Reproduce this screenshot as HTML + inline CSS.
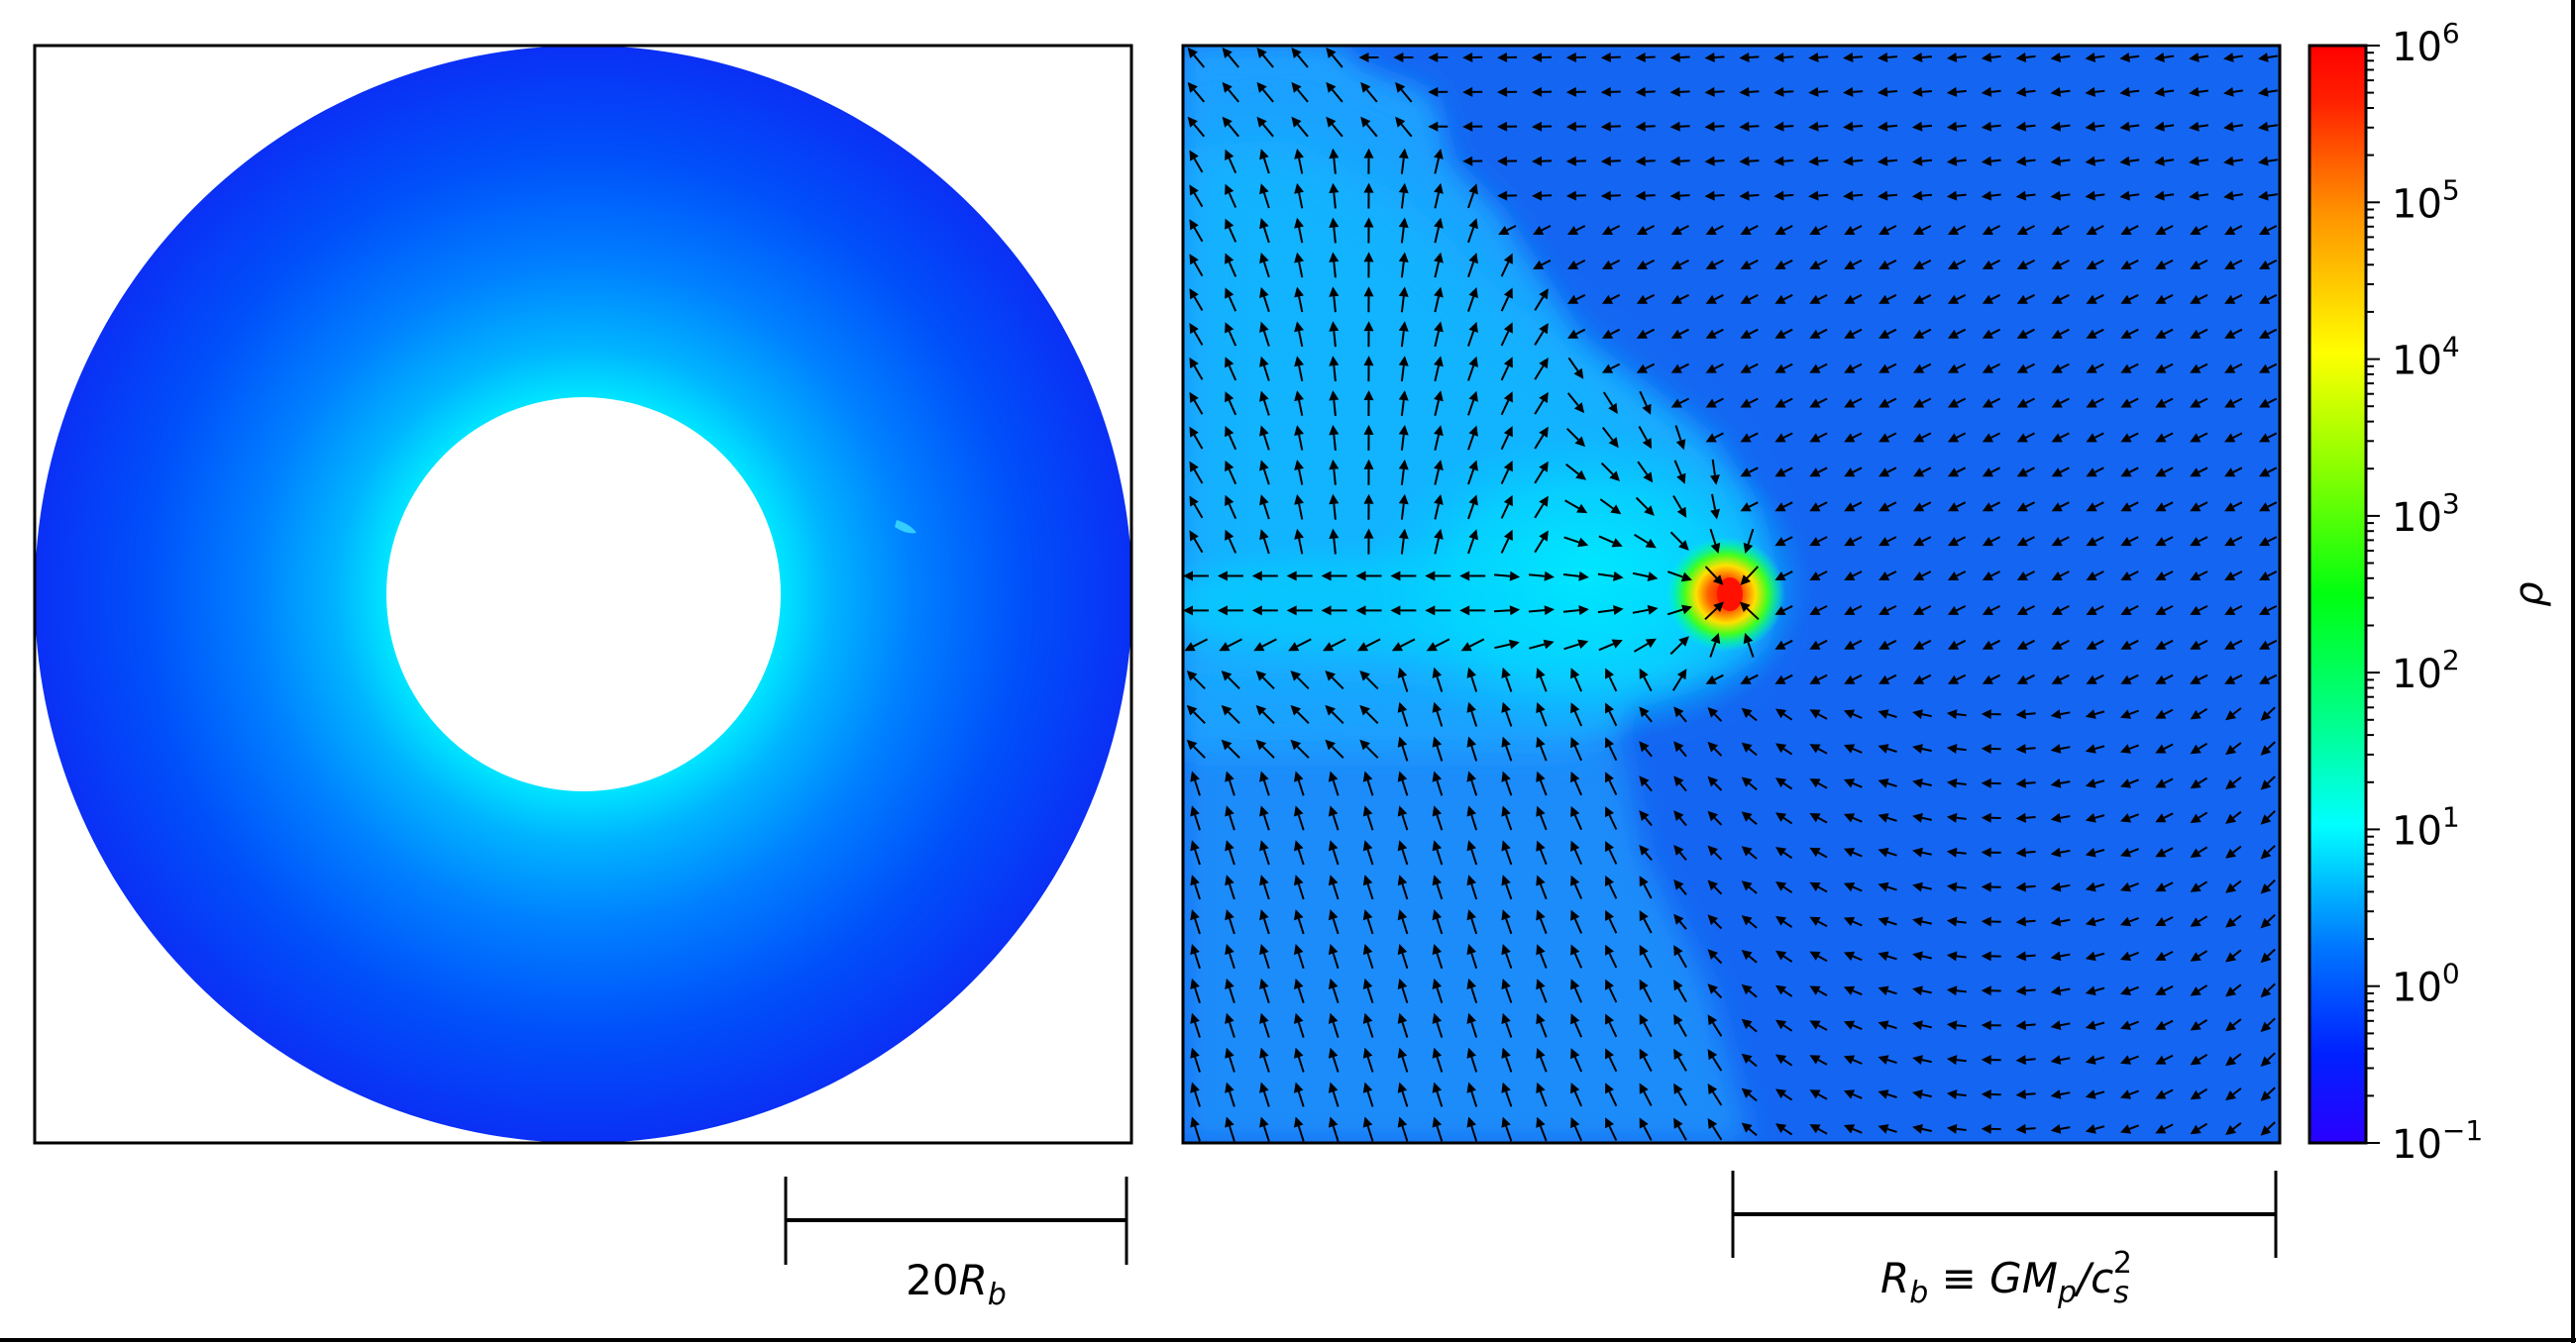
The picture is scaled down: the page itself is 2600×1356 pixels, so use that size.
<!DOCTYPE html>
<html><head><meta charset="utf-8"><style>
html,body{margin:0;padding:0;background:#fff;}
svg{display:block;}
text{font-family:"DejaVu Sans","Liberation Sans",sans-serif;}
</style></head><body>
<svg id="s" width="2600" height="1356" viewBox="0 0 2600 1356" xmlns="http://www.w3.org/2000/svg">
<defs>
<radialGradient id="ann" cx="589" cy="600" r="554" gradientUnits="userSpaceOnUse">
<stop offset="0.36" stop-color="#00e4ff"/>
<stop offset="0.45" stop-color="#00b4ff"/>
<stop offset="0.6" stop-color="#0080ff"/>
<stop offset="0.8" stop-color="#0050fa"/>
<stop offset="1" stop-color="#0a30f5"/>
</radialGradient>
<linearGradient id="jet" x1="0" y1="1" x2="0" y2="0">
<stop offset="0" stop-color="#2a00ff"/>
<stop offset="0.08" stop-color="#0020ff"/>
<stop offset="0.18" stop-color="#0078ff"/>
<stop offset="0.29" stop-color="#00ffff"/>
<stop offset="0.38" stop-color="#00ff90"/>
<stop offset="0.5" stop-color="#00ff10"/>
<stop offset="0.62" stop-color="#90ff00"/>
<stop offset="0.72" stop-color="#ffff00"/>
<stop offset="0.85" stop-color="#ff9000"/>
<stop offset="0.95" stop-color="#ff2000"/>
<stop offset="1" stop-color="#ff0000"/>
</linearGradient>
<radialGradient id="cy" cx="0.5" cy="0.5" r="0.5">
<stop offset="0" stop-color="#00f0ff" stop-opacity="1"/>
<stop offset="0.6" stop-color="#00e0ff" stop-opacity="0.6"/>
<stop offset="1" stop-color="#00c8ff" stop-opacity="0"/>
</radialGradient>
<radialGradient id="hot" cx="0.5" cy="0.5" r="0.5">
<stop offset="0" stop-color="#ff1000"/>
<stop offset="0.3" stop-color="#ff6000"/>
<stop offset="0.5" stop-color="#ffe000"/>
<stop offset="0.7" stop-color="#40ff20"/>
<stop offset="0.88" stop-color="#00ff90" stop-opacity="0.5"/>
<stop offset="1" stop-color="#00ffc0" stop-opacity="0"/>
</radialGradient>
<filter id="bl" x="-20%" y="-20%" width="140%" height="140%"><feGaussianBlur stdDeviation="14"/></filter>
<filter id="bl2" x="-20%" y="-20%" width="140%" height="140%"><feGaussianBlur stdDeviation="30"/></filter>
<clipPath id="cr"><rect x="1194" y="46" width="1107" height="1108"/></clipPath>
</defs>
<circle cx="589" cy="600" r="554" fill="url(#ann)"/>
<circle cx="589" cy="600" r="199" fill="#fff"/>
<path d="M905 525 Q920 530 925 538 Q915 540 903 532Z" fill="#40e0ff" opacity="0.8"/>
<rect x="35" y="46" width="1107" height="1108" fill="none" stroke="#000" stroke-width="3"/>
<g clip-path="url(#cr)">
<rect x="1194" y="46" width="1107" height="1108" fill="#1466f2"/>
<polygon points="1194,46 1343,46 1376,75 1442,99 1459,166 1509,216 1550,282 1592,348 1658,398 1724,448 1766,514 1787,597 1771,655 1724,680 1641,705 1633,738 1658,862 1724,995 1766,1154 1194,1154" fill="#1a8cfa" filter="url(#bl)"/>
<polygon points="1194,46 1343,46 1376,75 1442,99 1459,166 1509,216 1550,282 1592,348 1658,398 1724,448 1766,514 1787,597 1771,655 1724,680 1641,705 1633,738 1580,760 1194,760" fill="#1ca0ff" filter="url(#bl)"/>
<polygon points="1194,150 1300,140 1420,200 1520,300 1620,380 1720,460 1760,540 1770,640 1700,690 1560,700 1400,690 1194,680" fill="#10c0ff" opacity="0.6" filter="url(#bl2)"/>
<ellipse cx="1600" cy="590" rx="230" ry="160" fill="url(#cy)"/>
<ellipse cx="1420" cy="610" rx="260" ry="50" fill="#00d8ff" opacity="0.5" filter="url(#bl)"/>
<ellipse cx="1742" cy="600" rx="60" ry="58" fill="url(#hot)"/>
<ellipse cx="1746" cy="600" rx="13" ry="17" fill="#ff1000"/>
<g id="arr" fill="#000" stroke="#000"></g>
</g>
<rect x="1194" y="46" width="1107" height="1108" fill="none" stroke="#000" stroke-width="3"/>
<rect x="2331" y="46" width="57" height="1108" fill="url(#jet)" stroke="#000" stroke-width="3"/>
<g id="ticks" stroke="#000" stroke-width="2"></g>
<g font-size="40" fill="#000" id="lbl"></g>
<text transform="translate(2566,600) rotate(-90)" font-size="40" font-style="italic" text-anchor="middle">ρ</text>
<g stroke="#000">
<line x1="793" y1="1232" x2="1137" y2="1232" stroke-width="4"/>
<line x1="793" y1="1188" x2="793" y2="1277" stroke-width="3"/>
<line x1="1137" y1="1188" x2="1137" y2="1277" stroke-width="3"/>
<line x1="1749" y1="1226" x2="2297" y2="1226" stroke-width="4"/>
<line x1="1749" y1="1182" x2="1749" y2="1270" stroke-width="3"/>
<line x1="2297" y1="1182" x2="2297" y2="1270" stroke-width="3"/>
<line x1="0" y1="1353" x2="2600" y2="1353" stroke-width="4"/>
<line x1="2597" y1="0" x2="2597" y2="1356" stroke-width="4"/>
</g>
<text x="965" y="1307" font-size="42" text-anchor="middle">20<tspan font-style="italic">R</tspan><tspan font-style="italic" font-size="30" dy="10">b</tspan></text>
<text x="2025" y="1305" font-size="42" text-anchor="middle"><tspan font-style="italic">R</tspan><tspan font-style="italic" font-size="30" dy="10">b</tspan><tspan dy="-10"> ≡ </tspan><tspan font-style="italic">GM</tspan><tspan font-style="italic" font-size="30" dy="10">p</tspan><tspan dy="-10" font-style="italic">/c</tspan><tspan font-style="italic" font-size="30" dy="10">s</tspan><tspan font-size="30" dx="-16" dy="-30">2</tspan></text>
</svg>
<script>
(function(){
var poly=[[1194,46],[1343,46],[1376,75],[1442,99],[1459,166],[1509,216],[1550,282],[1592,348],[1658,398],[1724,448],[1766,514],[1787,597],[1771,655],[1724,680],[1641,705],[1633,738],[1658,862],[1724,995],[1766,1154],[1194,1154]];
function inside(x,y){var c=false;for(var i=0,j=poly.length-1;i<poly.length;j=i++){var a=poly[i],b=poly[j];if(((a[1]>y)!=(b[1]>y))&&(x<(b[0]-a[0])*(y-a[1])/(b[1]-a[1])+a[0]))c=!c;}return c;}
var g=document.getElementById("arr");var h="";
var P=[1748,600];var D=Math.PI/180;
for(var j=0;j<32;j++){for(var i=0;i<32;i++){
var x=1207+i*34.9,y=58+j*34.9,ang,L=26;
var dx=P[0]-x,dy=P[1]-y,d=Math.sqrt(dx*dx+dy*dy);
if(inside(x,y)){
 if(d<110){ang=Math.atan2(dy,dx);}
 else if(y<560){var t=(x-1194)/506;
   ang=-Math.PI*(0.68-0.45*Math.min(1,t*1.1));
   if(x>1560&&y>330){ang=Math.atan2(dy,dx);}
   if(y<130) ang=-Math.PI*0.72;}
 else if(y<660){ang=(x<1500)?Math.PI*(y<620?1.0:0.85):Math.atan2(dy,dx);}
 else {ang=-Math.PI*(0.6+0.1*Math.max(0,(x-1500)/300)); if(y<760&&x<1400)ang=-Math.PI*0.75;}
}else{
 L=20;
 if(y<200) ang=Math.PI*(1-0.05*(x-1400)/900);
 else if(y<700) ang=Math.PI*0.85;
 else {var t2=Math.max(0,Math.min(1,(x-1700)/600)); ang=(-130-95*t2)*D;}
}
var ux=Math.cos(ang),uy=Math.sin(ang);
var x1=x-ux*L/2,y1=y-uy*L/2,x2=x+ux*L/2,y2=y+uy*L/2;
var px=-uy,py=ux,hx=x2-ux*10,hy=y2-uy*10;
h+='<line x1="'+x1.toFixed(1)+'" y1="'+y1.toFixed(1)+'" x2="'+hx.toFixed(1)+'" y2="'+hy.toFixed(1)+'" stroke-width="2"/>';
h+='<polygon stroke="none" points="'+x2.toFixed(1)+','+y2.toFixed(1)+' '+(hx+px*5).toFixed(1)+','+(hy+py*5).toFixed(1)+' '+(hx-px*5).toFixed(1)+','+(hy-py*5).toFixed(1)+'"/>';
}}
g.innerHTML=h;
var tk=document.getElementById("ticks"),lb=document.getElementById("lbl"),th="",lh="";
var yTop=46,yBot=1154,step=(yBot-yTop)/7;
for(var e=-1;e<=6;e++){var yy=yBot-(e+1)*step;
 th+='<line x1="2388" y1="'+yy.toFixed(1)+'" x2="2402" y2="'+yy.toFixed(1)+'"/>';
 lh+='<text x="2414" y="'+(yy+15).toFixed(1)+'">10<tspan font-size="28" dy="-18">'+(e<0?'−1':e)+'</tspan></text>';
 if(e<6)for(var k=2;k<10;k++){var y3=yy-Math.log10(k)*step;th+='<line x1="2388" y1="'+y3.toFixed(1)+'" x2="2396" y2="'+y3.toFixed(1)+'"/>';}
}
tk.innerHTML=th;lb.innerHTML=lh;
})();
</script>
</body></html>
